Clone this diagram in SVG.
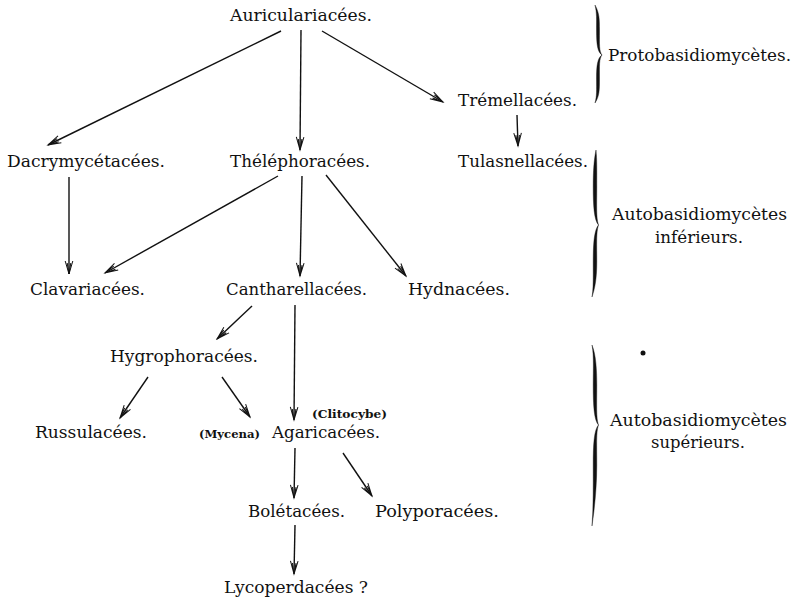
<svg xmlns="http://www.w3.org/2000/svg" width="795" height="600" viewBox="0 0 795 600">
<style>
.t{font-family:"DejaVu Serif","Liberation Serif",serif;font-size:17px;fill:#111}
.s{font-family:"DejaVu Serif","Liberation Serif",serif;font-size:11px;font-weight:bold;fill:#111}
.c{stroke:#111;stroke-width:1.4;fill:none;marker-end:url(#ah)}
.b{fill:#111;stroke:#111;stroke-width:0.4}
</style>
<defs>
<marker id="ah" markerUnits="userSpaceOnUse" markerWidth="16" markerHeight="12" viewBox="-14 -6 16 12" refX="0" refY="0" orient="auto">
<path d="M-13,-3.8 L0,0 L-13,3.8 M-11,-1.8 L0,0 L-11,1.8" fill="none" stroke="#111" stroke-width="1"/>
</marker>
</defs>
<rect width="795" height="600" fill="#fff"/>
<g id="connectors">
<line class="c" x1="281" y1="31" x2="48" y2="145"/>
<line class="c" x1="301" y1="30" x2="300" y2="150"/>
<line class="c" x1="322" y1="31" x2="443" y2="102"/>
<line class="c" x1="517" y1="115" x2="518" y2="146"/>
<line class="c" x1="69" y1="177" x2="69" y2="274"/>
<line class="c" x1="278" y1="176" x2="105" y2="273"/>
<line class="c" x1="302" y1="176" x2="300" y2="276"/>
<line class="c" x1="326" y1="175" x2="406" y2="276"/>
<line class="c" x1="252" y1="306" x2="217" y2="339"/>
<line class="c" x1="295" y1="305" x2="294" y2="420"/>
<line class="c" x1="148" y1="377" x2="120" y2="418"/>
<line class="c" x1="222" y1="377" x2="250" y2="417"/>
<line class="c" x1="295" y1="448" x2="294" y2="498"/>
<line class="c" x1="343" y1="453" x2="372" y2="496"/>
<line class="c" x1="295" y1="525" x2="294" y2="574"/>
</g>
<g id="auriculariacees"><text class="t" x="230" y="21" textLength="142" lengthAdjust="spacingAndGlyphs">Auriculariacées.</text></g>
<g id="tremellacees"><text class="t" x="458" y="106" textLength="119" lengthAdjust="spacingAndGlyphs">Trémellacées.</text></g>
<g id="dacrymycetacees"><text class="t" x="7" y="167" textLength="158" lengthAdjust="spacingAndGlyphs">Dacrymycétacées.</text></g>
<g id="thelephoracees"><text class="t" x="230" y="167" textLength="140" lengthAdjust="spacingAndGlyphs">Théléphoracées.</text></g>
<g id="tulasnellacees"><text class="t" x="458" y="167" textLength="130" lengthAdjust="spacingAndGlyphs">Tulasnellacées.</text></g>
<g id="clavariacees"><text class="t" x="30" y="295" textLength="115" lengthAdjust="spacingAndGlyphs">Clavariacées.</text></g>
<g id="cantharellacees"><text class="t" x="226" y="295" textLength="141" lengthAdjust="spacingAndGlyphs">Cantharellacées.</text></g>
<g id="hydnacees"><text class="t" x="408" y="295" textLength="102" lengthAdjust="spacingAndGlyphs">Hydnacées.</text></g>
<g id="hygrophoracees"><text class="t" x="110" y="362" textLength="148" lengthAdjust="spacingAndGlyphs">Hygrophoracées.</text></g>
<g id="russulacees"><text class="t" x="35" y="438" textLength="112" lengthAdjust="spacingAndGlyphs">Russulacées.</text></g>
<g id="agaricacees">
<text class="s" x="199" y="438" textLength="61" lengthAdjust="spacingAndGlyphs">(Mycena)</text>
<text class="t" x="272" y="438" textLength="108" lengthAdjust="spacingAndGlyphs">Agaricacées.</text>
<text class="s" x="312" y="418" textLength="75" lengthAdjust="spacingAndGlyphs">(Clitocybe)</text>
</g>
<g id="boletacees"><text class="t" x="248" y="517" textLength="97" lengthAdjust="spacingAndGlyphs">Bolétacées.</text></g>
<g id="polyporacees"><text class="t" x="375" y="517" textLength="124" lengthAdjust="spacingAndGlyphs">Polyporacées.</text></g>
<g id="lycoperdacees"><text class="t" x="224" y="593" textLength="144" lengthAdjust="spacingAndGlyphs">Lycoperdacées ?</text></g>
<g id="protobasidiomycetes">
<path class="b" d="M595,5 C599.5,13 599.5,20 599.5,30 C599.5,45 599,51 602,55 C599,59 599.5,65 599.5,79 C599.5,90 599.5,96 595,103 C597,96 596.5,90 596.5,79 C596.5,65 597.5,58 602,55 C597.5,52 596.5,45 596.5,30 C596.5,20 597,13 595,5 Z"/>
<text class="t" x="608" y="61" textLength="183" lengthAdjust="spacingAndGlyphs">Protobasidiomycètes.</text>
</g>
<g id="autobasidiomycetes-inferieurs">
<path class="b" d="M596,150 C597,160 596.8,170 596.8,187 C596.8,205 596,218 598.5,225 C596,232 596.8,245 596.8,262 C596.8,278 595,288 592,297 C593.5,288 593.2,278 593.2,262 C593.2,245 594,230 598.5,225 C594,220 593.2,205 593.2,187 C593.2,170 594,160 596,150 Z"/>
<text class="t" x="612" y="220" textLength="175" lengthAdjust="spacingAndGlyphs">Autobasidiomycètes</text>
<text class="t" x="655" y="243" textLength="88" lengthAdjust="spacingAndGlyphs">inférieurs.</text>
</g>
<g id="autobasidiomycetes-superieurs">
<path class="b" d="M592,345 C596,355 596.8,370 596.8,385 C596.8,405 596,418 598.5,425 C596,432 596.8,445 596.8,465 C596.8,485 595,505 592,526 C593.5,505 593.2,485 593.2,465 C593.2,445 594,430 598.5,425 C594,420 593.2,405 593.2,385 C593.2,370 594,355 592,345 Z"/>
<text class="t" x="610" y="426" textLength="177" lengthAdjust="spacingAndGlyphs">Autobasidiomycètes</text>
<text class="t" x="651" y="448" textLength="94" lengthAdjust="spacingAndGlyphs">supérieurs.</text>
</g>
<circle cx="643" cy="353" r="2.5" fill="#111"/>
</svg>
